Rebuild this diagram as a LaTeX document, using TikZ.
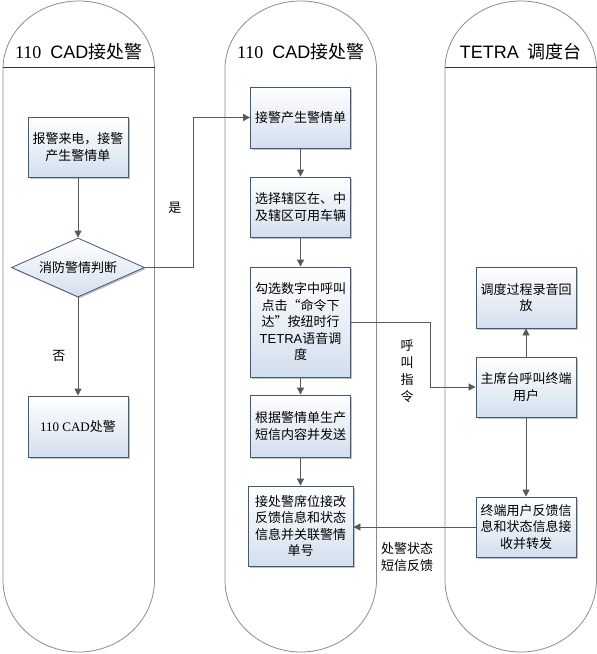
\documentclass[tikz,border=0pt]{standalone}
\usepackage{fontspec}
\setmainfont{Noto Sans CJK SC}
\newfontfamily\latinsans{Liberation Sans}
\newfontfamily\latinserif{Liberation Serif}
\usetikzlibrary{arrows.meta,shapes.geometric,shadows}
\definecolor{boxline}{HTML}{41597A}
\definecolor{boxfill}{HTML}{D3DFEE}
\definecolor{flowline}{HTML}{595959}
\definecolor{laneline}{HTML}{8C8C8C}

\begin{document}
\begin{tikzpicture}[x=1pt,y=-1pt,
                    font=\fontsize{13}{16.5}\selectfont,
                    line width=0.8pt]
    \tikzstyle{task}=[rectangle,draw=boxline,top color=white,bottom color=boxfill,
                      drop shadow={shadow xshift=1.5pt,shadow yshift=-1.5pt,fill=black!40,opacity=0.6},
                      minimum width=100pt,minimum height=60pt,inner sep=2pt,align=center]
    \tikzstyle{decision}=[task,diamond,minimum width=133pt,minimum height=59pt,shape aspect=2.25,inner sep=0pt]
    \tikzstyle{flow}=[draw=flowline,-{Triangle[length=7pt,width=7pt]}]
    \tikzstyle{lane}=[draw=laneline]
    \tikzstyle{title}=[font=\fontsize{18}{20}\selectfont]
    \tikzstyle{note}=[align=center,font=\fontsize{13}{17}\selectfont]

    \useasboundingbox (0,0) rectangle (597,654);

    \foreach \lx in {3,225,445}
        \draw[lane] (\lx,69) arc[start angle=180,end angle=0,x radius=75.75pt,y radius=68pt]
                    -- ++(0,511) arc[start angle=0,end angle=-180,x radius=75.75pt,y radius=72pt] -- cycle;
    \draw[black!80] (3,67) -- (154.5,67);
    \draw[black!80] (445,67) -- (596.5,67);

    \node[title] (cadtitle) at (78.75,52) {{\latinserif 110}\hspace{0.5em}{\latinsans CAD}接处警};
    \node[title] (alarmtitle) at (300.75,52) {{\latinserif 110}\hspace{0.5em}{\latinsans CAD}接处警};
    \node[title] (tetratitle) at (520.75,52) {{\latinsans TETRA}\hspace{0.5em}调度台};

    \node[task] (report) at (78,147) {报警来电，接警\\产生警情单};
    \node[decision] (judge) at (78,267.5) {消防警情判断};
    \node[task,minimum height=61pt] (cad) at (78,426.5) {{\latinserif 110 CAD}处警};

    \node[task,minimum height=61pt] (recv) at (300.5,117.5) {接警产生警情单};
    \node[task] (select) at (300.5,207) {选择辖区在、中\\及辖区可用车辆};
    \node[task,minimum height=110pt] (dispatch) at (300.5,322) {勾选数字中呼叫\\点击“命令下\\达”按纽时行\\{\latinsans TETRA}语音调\\度};
    \node[task,minimum height=62pt] (sms) at (300.5,426) {根据警情单生产\\短信内容并发送};
    \node[task,minimum width=105pt,minimum height=80pt] (relay) at (300.5,526) {接处警席位接改\\反馈信息和状态\\信息并关联警情\\单号};

    \node[task,minimum height=61pt] (playback) at (526,297.5) {调度过程录音回\\放};
    \node[task] (console) at (526,387) {主席台呼叫终端\\用户};
    \node[task] (feedback) at (526,527) {终端用户反馈信\\息和状态信息接\\收并转发};

    \coordinate (yesbend) at (193,117.5);
    \coordinate (callbend) at (430,387);

    \draw[flow] (report) -- (judge);
    \draw[flow] (judge) -- node[pos=0.6,left=9pt] (nolbl) {否} (cad);
    \draw[flow] (judge.east) -| node[pos=0.7,left=8pt] (yeslbl) {是} (yesbend) -- (recv.west);
    \draw[flow] (recv) -- (select);
    \draw[flow] (select) -- (dispatch);
    \draw[flow] (dispatch) -- (sms);
    \draw[flow] (sms) -- (relay);
    \draw[flow] (dispatch.east) -| (callbend) -- (console.west);
    \node[note] (calllbl) at (407,371) {呼\\叫\\指\\令};
    \draw[flow] (console) -- (playback);
    \draw[flow] (console) -- (feedback);
    \draw[flow] (feedback.west) -- node[pos=0.56,below=12pt,note] (smslbl) {处警状态\\短信反馈} (feedback.west -| relay.east);
\end{tikzpicture}
\end{document}
